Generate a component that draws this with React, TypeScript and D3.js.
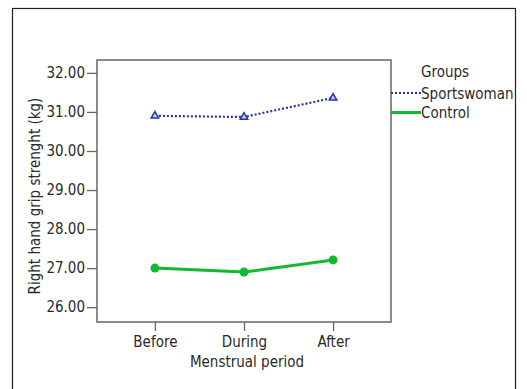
import React, { useEffect, useRef } from "react";
import * as d3 from "d3";

const periods = ["Before", "During", "After"];
const sportswoman = [30.9, 30.87, 31.36];
const control = [27.0, 26.9, 27.21];
const yTicks = [26, 27, 28, 29, 30, 31, 32];
const groups = ["Sportswoman", "Control"];

const FONT = "'DejaVu Sans Condensed', 'DejaVu Sans', sans-serif";

const App = () => {
  const svgRef = useRef<SVGSVGElement>(null);

  useEffect(() => {
    const svg = d3.select(svgRef.current);
    svg.selectAll("*").remove();

    const margin = { top: 60, left: 97, right: 391, bottom: 322 };

    const x = d3.scalePoint().domain(periods).range([margin.left, margin.right]).padding(0.65);
    const y = d3.scaleLinear().domain([25.62, 32.33]).range([margin.bottom, margin.top]);

    // outer border
    svg
      .append("rect")
      .attr("x", 12.5)
      .attr("y", 8.5)
      .attr("width", 503)
      .attr("height", 400)
      .attr("fill", "none")
      .attr("stroke", "#222")
      .attr("stroke-width", 1.2);

    // plot frame
    svg
      .append("rect")
      .attr("x", margin.left)
      .attr("y", margin.top)
      .attr("width", margin.right - margin.left)
      .attr("height", margin.bottom - margin.top)
      .attr("fill", "none")
      .attr("stroke", "#666")
      .attr("stroke-width", 1.5);

    const yAxis = svg
      .append("g")
      .attr("transform", `translate(${margin.left},0)`)
      .call(
        d3
          .axisLeft(y)
          .tickValues(yTicks)
          .tickSize(10)
          .tickPadding(2)
          .tickFormat((d) => d3.format(".2f")(d as number))
      );
    yAxis.select(".domain").remove();
    yAxis.selectAll("line").attr("stroke", "#666").attr("stroke-width", 1.3);
    yAxis
      .selectAll("text")
      .attr("font-family", FONT)
      .attr("font-size", 15)
      .attr("fill", "#2a2a2a");

    const xAxis = svg
      .append("g")
      .attr("transform", `translate(0,${margin.bottom})`)
      .call(d3.axisBottom(x).tickSize(9).tickPadding(5));
    xAxis.select(".domain").remove();
    xAxis.selectAll("line").attr("stroke", "#666").attr("stroke-width", 1.3);
    xAxis
      .selectAll("text")
      .attr("font-family", FONT)
      .attr("font-size", 15)
      .attr("fill", "#2a2a2a");

    svg
      .append("text")
      .attr("x", 247)
      .attr("y", 367)
      .attr("text-anchor", "middle")
      .attr("font-family", FONT)
      .attr("font-size", 15)
      .attr("fill", "#2a2a2a")
      .text("Menstrual period");

    svg
      .append("text")
      .attr("transform", `translate(40,196) rotate(-90)`)
      .attr("text-anchor", "middle")
      .attr("font-family", FONT)
      .attr("font-size", 15)
      .attr("fill", "#2a2a2a")
      .text("Right hand grip strenght (kg)");

    const line = d3
      .line<number>()
      .x((_, i) => x(periods[i]) as number)
      .y((d) => y(d));

    // control series
    svg
      .append("path")
      .datum(control)
      .attr("d", line)
      .attr("fill", "none")
      .attr("stroke", "#12b832")
      .attr("stroke-width", 3);
    svg
      .selectAll(".ctrl")
      .data(control)
      .enter()
      .append("circle")
      .attr("cx", (_, i) => x(periods[i]) as number)
      .attr("cy", (d) => y(d))
      .attr("r", 4.5)
      .attr("fill", "#12b832");

    // sportswoman series
    svg
      .append("path")
      .datum(sportswoman)
      .attr("d", line)
      .attr("fill", "none")
      .attr("stroke", "#2333a8")
      .attr("stroke-width", 2.2)
      .attr("stroke-dasharray", "2,2");
    const tri = d3.symbol().type(d3.symbolTriangle).size(24);
    svg
      .selectAll(".sport")
      .data(sportswoman)
      .enter()
      .append("path")
      .attr("d", tri)
      .attr("transform", (d, i) => `translate(${x(periods[i])},${y(d)})`)
      .attr("fill", "#c8cdf0")
      .attr("stroke", "#2333a8")
      .attr("stroke-width", 1.5);

    // legend
    svg
      .append("text")
      .attr("x", 421)
      .attr("y", 77)
      .attr("font-family", FONT)
      .attr("font-size", 15)
      .attr("fill", "#2a2a2a")
      .text("Groups");

    const legendY = [93, 112.5];
    const legendStyle = [
      { stroke: "#2333a8", width: 2.2, dash: "2,2" },
      { stroke: "#12b832", width: 3, dash: null },
    ];
    groups.forEach((g, i) => {
      svg
        .append("line")
        .attr("x1", margin.right)
        .attr("x2", 421)
        .attr("y1", legendY[i])
        .attr("y2", legendY[i])
        .attr("stroke", legendStyle[i].stroke)
        .attr("stroke-width", legendStyle[i].width)
        .attr("stroke-dasharray", legendStyle[i].dash);
      svg
        .append("text")
        .attr("x", 421)
        .attr("y", legendY[i] + 5.5)
        .attr("font-family", FONT)
        .attr("font-size", 15)
        .attr("fill", "#2a2a2a")
        .text(g);
    });
  }, []);

  return (
    <svg
      ref={svgRef}
      width={527}
      height={389}
      style={{ position: "absolute", left: 0, top: 0, background: "#fff" }}
    />
  );
};

export default App;
